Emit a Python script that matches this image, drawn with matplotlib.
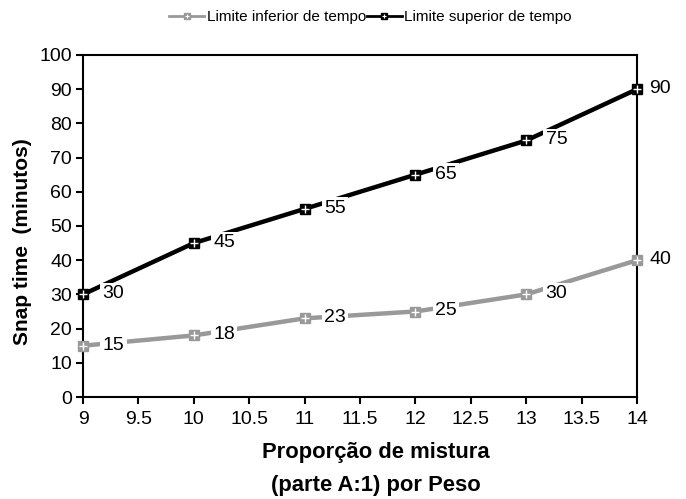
import matplotlib
matplotlib.use("Agg")
import matplotlib.pyplot as plt
from matplotlib.lines import Line2D

plt.rcParams['font.family'] = ['Liberation Sans', 'DejaVu Sans']

ratio = [9, 10, 11, 12, 13, 14]
lower = [15, 18, 23, 25, 30, 40]
upper = [30, 45, 55, 65, 75, 90]
lower_labels = ["15", "18", "23", "25", "30", "40"]
upper_labels = ["30", "45", "55", "65", "75", "90"]
xticks = [9, 9.5, 10, 10.5, 11, 11.5, 12, 12.5, 13, 13.5, 14]
xtick_labels = ["9", "9.5", "10", "10.5", "11", "11.5", "12", "12.5", "13", "13.5", "14"]
yticks = list(range(0, 101, 10))

fig = plt.figure(figsize=(6.86, 4.99), dpi=100)
ax = fig.add_axes([0.121, 0.2044, 0.8076, 0.6854])

series = [(lower, lower_labels, "#999999", "Limite inferior de tempo"),
          (upper, upper_labels, "#000000", "Limite superior de tempo")]
handles = []
n = len(ratio)
for vals, labs, col, name in series:
    ax.plot(ratio, vals, color=col, lw=3.2, solid_capstyle='butt', zorder=3, clip_on=False)
    ax.plot(ratio, vals, ls='none', marker='s', ms=6.5, color=col, mec=col, zorder=4, clip_on=False)
    ax.plot(ratio, vals, ls='none', marker='+', ms=5.5, mew=1.0, color='white', zorder=5, clip_on=False)
    for i, (x, v, t) in enumerate(zip(ratio, vals, labs)):
        dx = 9 if i == n - 1 else 14
        ax.annotate(t, (x, v), xytext=(dx, 0.5), textcoords='offset points',
                    ha='left', va='center', fontsize=14, color='black', zorder=6,
                    bbox=dict(boxstyle='square,pad=0.12', fc='white', ec='none'),
                    annotation_clip=False)
    h = (Line2D([], [], color=col, lw=2, marker='s', ms=5, mec=col),
         Line2D([], [], ls='none', marker='+', ms=3.5, mew=0.8, color='white'))
    handles.append((h, name))

ax.set_xlim(9, 14)
ax.set_ylim(0, 100)
ax.set_xticks(xticks)
ax.set_xticklabels(xtick_labels)
ax.set_yticks(yticks)
ax.tick_params(axis='both', direction='out', length=5, width=1.5, labelsize=14, colors='black', pad=3)
ax.tick_params(axis='x', pad=5)
for s in ax.spines.values():
    s.set_linewidth(1.5)
    s.set_color('black')

fig.text(23 / 686, 1 - 242 / 499, "Snap time  (minutos)", rotation=90, ha='center', va='center',
         fontsize=15, fontweight='bold')
fig.text(0.548, 0.094, "Proporção de mistura", ha='center', va='center', fontsize=15.8, fontweight='bold')
fig.text(0.548, 0.028, "(parte A:1) por Peso", ha='center', va='center', fontsize=15.8, fontweight='bold')

leg = fig.legend([h for h, n in handles], [n for h, n in handles], loc='center', bbox_to_anchor=(0.54, 0.966),
                 ncol=2, frameon=False, fontsize=11, handlelength=2.3, handletextpad=0.15, columnspacing=0.05)

fig.savefig("out.png", dpi=100)
